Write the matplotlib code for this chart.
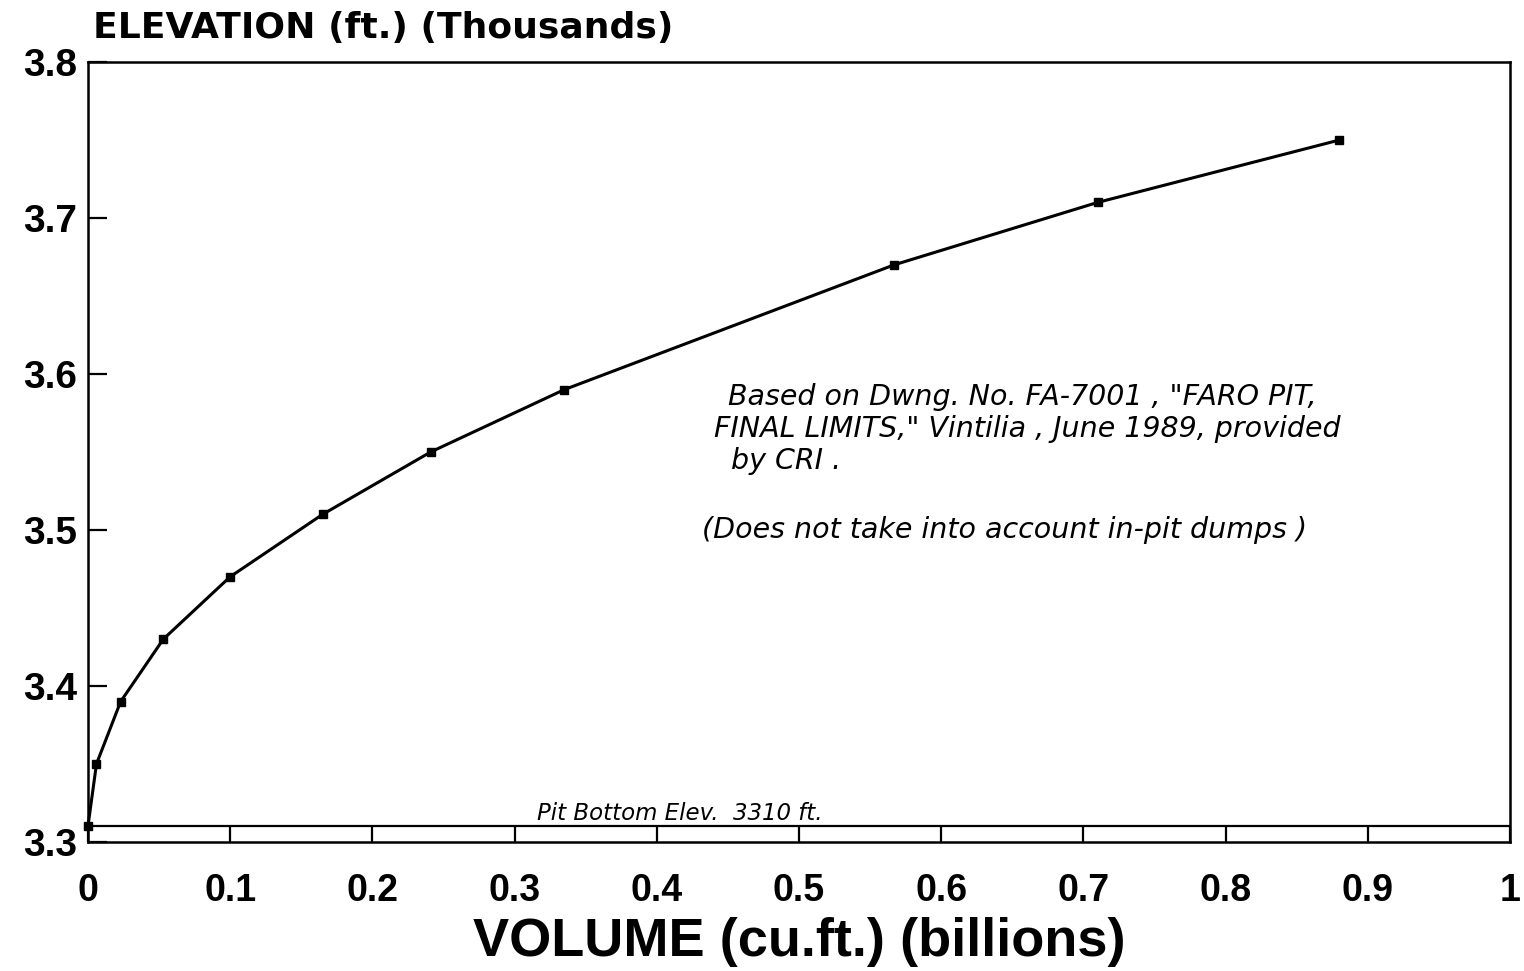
import matplotlib
matplotlib.use("Agg")
import matplotlib.pyplot as plt

# pit capacity curve
volume_bcf = [0.0, 0.006, 0.023, 0.053, 0.1, 0.165, 0.241, 0.335, 0.567, 0.710, 0.880]
elev_kft = [3.31, 3.35, 3.39, 3.43, 3.47, 3.51, 3.55, 3.59, 3.67, 3.71, 3.75]

pit_bottom = 3.31
xticks = [0, 0.1, 0.2, 0.3, 0.4, 0.5, 0.6, 0.7, 0.8, 0.9, 1]
xtick_labels = ["0", "0.1", "0.2", "0.3", "0.4", "0.5", "0.6", "0.7", "0.8", "0.9", "1"]
yticks = [3.3, 3.4, 3.5, 3.6, 3.7, 3.8]
ytick_labels = ["3.3", "3.4", "3.5", "3.6", "3.7", "3.8"]

note_lines = ['Based on Dwng. No. FA-7001 , "FARO PIT,',
              'FINAL LIMITS," Vintilia , June 1989, provided',
              'by CRI .']
note2 = "(Does not take into account in-pit dumps )"
pit_note = "Pit Bottom Elev.  3310 ft."

plt.rcParams["font.family"] = ["Liberation Sans", "DejaVu Sans"]

fig = plt.figure(figsize=(15.24, 9.71), dpi=100)
ax = fig.add_axes([0.0577, 0.1329, 0.9331, 0.8032])

ax.plot(volume_bcf, elev_kft, color="black", lw=2.2, marker="s", ms=5.5,
        mfc="black", mec="black", clip_on=False, zorder=3)
ax.axhline(pit_bottom, color="black", lw=1.6)

ax.set_xlim(0, 1)
ax.set_ylim(3.3, 3.8)
ax.set_xticks(xticks)
ax.set_xticklabels(xtick_labels)
ax.set_yticks(yticks)
ax.set_yticklabels(ytick_labels)
ax.tick_params(axis="x", direction="in", length=11, width=1.6, pad=22,
               labelsize=27, top=False)
ax.tick_params(axis="y", direction="in", length=14, width=1.6, pad=8,
               labelsize=28, right=False)
for lab in ax.get_xticklabels() + ax.get_yticklabels():
    lab.set_fontweight("bold")
for s in ax.spines.values():
    s.set_linewidth(1.8)

ax.set_xlabel("VOLUME (cu.ft.) (billions)", fontsize=39, fontweight="bold",
              labelpad=6)
fig.text(0.061, 0.971, "ELEVATION (ft.) (Thousands)", fontsize=26,
         fontweight="bold", family="DejaVu Sans", ha="left", va="center")

hand = dict(family="DejaVu Sans", style="italic", fontsize=20.5, color="black")
ax.text(0.450, 3.585, note_lines[0], ha="left", va="center", **hand)
ax.text(0.440, 3.5645, note_lines[1], ha="left", va="center", **hand)
ax.text(0.452, 3.544, note_lines[2], ha="left", va="center", **hand)
ax.text(0.432, 3.5, note2, ha="left", va="center", **hand)
ax.text(0.316, 3.318, pit_note, ha="left", va="center",
        family="DejaVu Sans", style="italic", fontsize=16.5)

fig.savefig("out.png", dpi=100, facecolor="white")
